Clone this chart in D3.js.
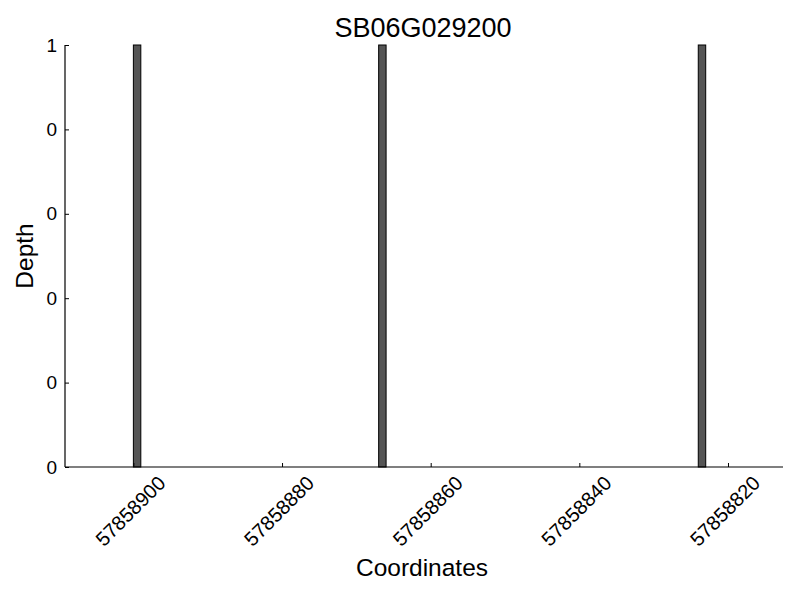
<!DOCTYPE html>
<html>
<head>
<meta charset="utf-8">
<script src="https://cdn.jsdelivr.net/npm/d3@7"></script>
<style>
  body { margin: 0; background: #fff; }
  text { font-family: "Liberation Sans", Arial, sans-serif; fill: #000; }
</style>
</head>
<body>
<div id="chart"></div>
<script>
let width = 800;
let height = 600;

let title = "SB06G029200";
// bar centres (genomic coordinate) and depth
let positions = [57858899.5, 57858866.5, 57858823.5];
let depths = [1, 1, 1];
let xTicks = [57858900, 57858880, 57858860, 57858840, 57858820];
let yTicks = [0, 0.2, 0.4, 0.6, 0.8, 1];
let xDomain = [57858909.2, 57858812.6];

let margin = {left: 65, right: 17, top: 45, bottom: 133};

let svg = d3.select("#chart").append("svg")
  .attr("width", width)
  .attr("height", height);

let x = d3.scaleLinear().domain(xDomain).range([margin.left, width - margin.right]);
let y = d3.scaleLinear().domain([0, 1]).range([height - margin.bottom, margin.top]);

// bars
svg.append("g")
  .selectAll("rect")
  .data(positions)
  .enter().append("rect")
    .attr("x", d => x(d + 0.5))
    .attr("width", d => x(d - 0.5) - x(d + 0.5))
    .attr("y", (d, i) => y(depths[i]))
    .attr("height", (d, i) => y(0) - y(depths[i]))
    .attr("fill", "#555555")
    .attr("stroke", "#000")
    .attr("stroke-width", 1);

// x axis, ticks pointing inward
let xAxis = svg.append("g")
  .attr("transform", "translate(0," + y(0) + ")")
  .call(d3.axisTop(x).tickValues(xTicks).tickSize(4).tickFormat(""));
xAxis.select(".domain").attr("d", "M" + x.range()[0] + ",0H" + x.range()[1]).attr("stroke-width", 1.2);

svg.append("g")
  .selectAll("text")
  .data(xTicks)
  .enter().append("text")
    .attr("transform", d => "translate(" + (x(d) - 3) + "," + (y(0) + 44) + ") rotate(-45)")
    .attr("text-anchor", "middle")
    .attr("dominant-baseline", "central")
    .style("font-size", "20px")
    .text(d => d);

// y axis, ticks pointing inward
let yAxis = svg.append("g")
  .attr("transform", "translate(" + margin.left + ",0)")
  .call(d3.axisRight(y).tickValues(yTicks).tickSize(4).tickFormat(""));
yAxis.select(".domain").attr("d", "M0," + y.range()[0] + "V" + y.range()[1]).attr("stroke-width", 1.2);

svg.append("g")
  .selectAll("text")
  .data(yTicks)
  .enter().append("text")
    .attr("x", margin.left - 8)
    .attr("y", d => y(d))
    .attr("text-anchor", "end")
    .attr("dominant-baseline", "central")
    .style("font-size", "19px")
    .text(d => d3.format("d")(Math.floor(d)));

// labels
svg.append("text")
  .attr("x", 423)
  .attr("y", 37)
  .attr("text-anchor", "middle")
  .style("font-size", "27px")
  .text(title);

svg.append("text")
  .attr("x", 422)
  .attr("y", 576)
  .attr("text-anchor", "middle")
  .style("font-size", "24.5px")
  .text("Coordinates");

svg.append("text")
  .attr("transform", "translate(32.5,256) rotate(-90)")
  .attr("text-anchor", "middle")
  .style("font-size", "24.5px")
  .text("Depth");
</script>
</body>
</html>
